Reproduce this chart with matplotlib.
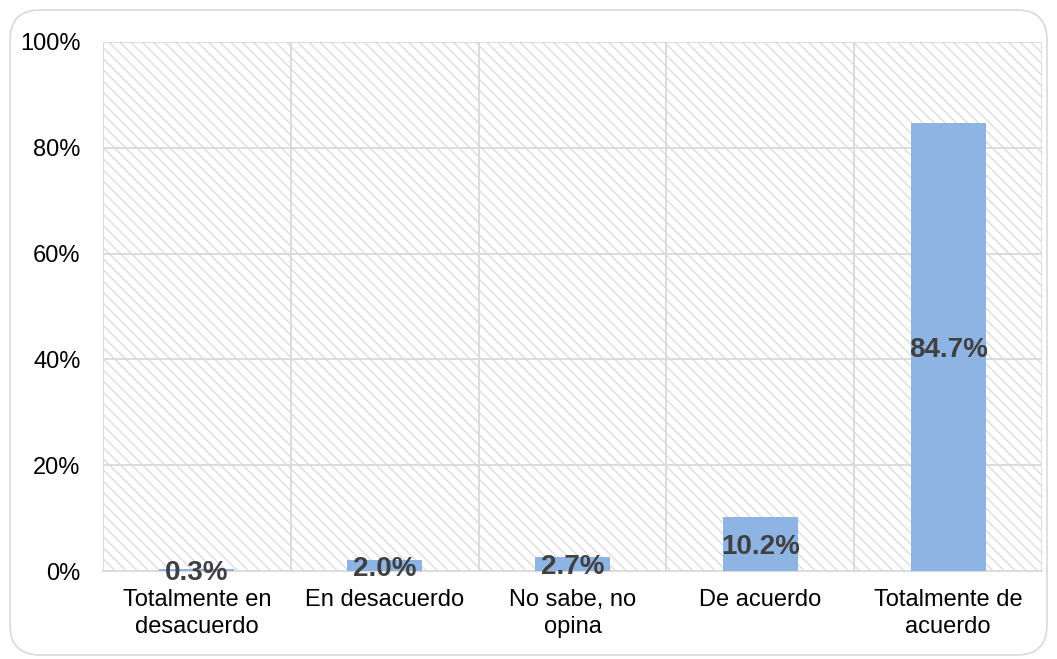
import matplotlib as mpl
import matplotlib.pyplot as plt
from matplotlib.patches import Rectangle, FancyBboxPatch

categorias = ['Totalmente en\ndesacuerdo', 'En desacuerdo', 'No sabe, no\nopina',
              'De acuerdo', 'Totalmente de\nacuerdo']
porcentajes = [0.3, 2.0, 2.7, 10.2, 84.7]
yticks = [0, 20, 40, 60, 80, 100]

mpl.rcParams.update({
  'font.family': ['Liberation Sans', 'DejaVu Sans'],
  'font.size': 17,
  'hatch.linewidth': 1.0
})

fig = plt.figure(figsize=(10.57, 6.59), dpi=100)

# marco redondeado alrededor del grafico
marco = FancyBboxPatch((0.1, 0.04), 10.37, 6.45,
                       boxstyle='round,pad=0,rounding_size=0.3',
                       transform=fig.dpi_scale_trans, facecolor='none',
                       edgecolor='#D9D9D9', linewidth=1.2, zorder=-1)
fig.patches.append(marco)

ax = fig.add_axes([0.0974, 0.1335, 0.8884, 0.8028])
ax.set_facecolor('none')

# fondo rayado del area de trazado
fondo = Rectangle((0, 0), 1, 1, transform=ax.transAxes, facecolor='white',
                  edgecolor='#DEDEDE', linewidth=0, hatch='\\\\\\', zorder=0)
ax.add_patch(fondo)

x = range(len(categorias))
ax.bar(x, porcentajes, width=0.4, color='#8EB4E3', zorder=3)

for i in range(len(porcentajes)):
  ax.text(i, porcentajes[i] / 2, '{:.1f}%'.format(porcentajes[i]),
          ha='center', va='center_baseline', fontsize=20, fontweight='bold',
          color='#404040', zorder=4, clip_on=False)

ax.set_xlim(-0.5, len(categorias) - 0.5)
ax.set_ylim(0, 100)
ax.set_yticks(yticks)
ax.set_yticklabels(['{}%'.format(v) for v in yticks])
ax.set_xticks(list(x))
ax.set_xticklabels(categorias, linespacing=1.3)
ax.tick_params(length=0, pad=16, axis='y')
ax.tick_params(length=0, pad=13, axis='x')

for v in yticks[1:]:
  ax.axhline(v, color='#D9D9D9', linewidth=1.3, zorder=1)
for i in range(len(categorias) + 1):
  ax.axvline(i - 0.5, color='#D9D9D9', linewidth=1.3, zorder=1)

for lado in ['top', 'right', 'left']:
  ax.spines[lado].set_visible(False)
ax.spines['bottom'].set_color('#D9D9D9')
ax.spines['bottom'].set_linewidth(1.3)
ax.spines['bottom'].set_zorder(2)

plt.savefig('out.png', dpi=100)
